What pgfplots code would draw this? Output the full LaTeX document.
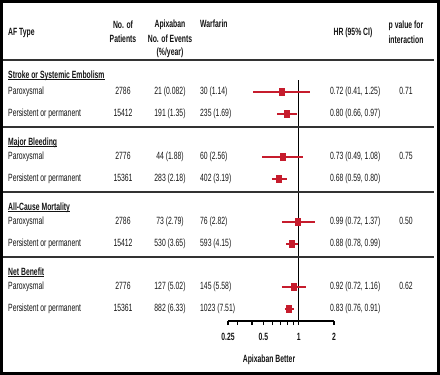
\documentclass[border=0pt]{standalone}
\usepackage{fontspec}
\setmainfont{Liberation Sans}[FakeStretch=0.65]
\usepackage{pgfplots}
\pgfplotsset{compat=1.18}
\definecolor{fred}{RGB}{198,28,45}
\definecolor{txt}{RGB}{20,20,20}
\pgfdeclareplotmark{vrect}{\pgfpathrectangle{\pgfpoint{-3pt}{-4pt}}{\pgfpoint{6pt}{8pt}}\pgfusepathqfill}
\newcommand{\hdr}[1]{\textbf{#1}}
\newcommand{\sect}[2]{\node[anchor=mid west] (s) at (8pt,-#1pt) {\textbf{#2}};
  \draw[line width=0.8pt, txt] ([yshift=-1.2pt]s.base west) -- ([yshift=-1.2pt]s.base east);}
\newcommand{\row}[7]{%
 \node[anchor=mid west] at (8pt,-#1pt) {#2};
 \node[anchor=mid] at (123pt,-#1pt) {#3};
 \node[anchor=mid] at (170pt,-#1pt) {#4};
 \node[anchor=mid west] at (200pt,-#1pt) {#5};
 \node[anchor=mid west] at (330pt,-#1pt) {#6};
 \node[anchor=mid] at (406pt,-#1pt) {#7};
}
\begin{document}
\begin{tikzpicture}[every node/.style={font=\fontsize{10.5}{11.5}\selectfont, inner sep=0pt, text=txt}]
\useasboundingbox (0,0) rectangle (440pt,-375pt);
\begin{axis}[
  at={(228pt,-321pt)}, anchor=south west,
  scale only axis, width=106pt, height=241pt,
  xmode=log, xmin=0.25, xmax=2, ymin=-321, ymax=-80,
  axis x line*=bottom, axis y line=none,
  x axis line style={-, line width=1.2pt, black},
  xtick={0.25,0.5,1,2}, xticklabels={0.25,0.5,1,2},
  minor xtick={0.3,0.4,0.6,0.7,0.8,0.9},
  tick align=outside, major tick length=4pt, minor tick length=4pt,
  every tick/.style={line width=1.2pt, black},
  /pgf/number format/assume math mode=true,
  xticklabel style={font=\bfseries\fontsize{10.5}{11.5}\selectfont, yshift=-8pt},
  clip=false,
]
\addplot[black, line width=1.2pt] coordinates {(1,-80) (1,-321)};
\addplot[fred, line width=2pt] coordinates {(0.41,-92) (1.25,-92)};
\addplot[fred, line width=2pt] coordinates {(0.66,-114) (0.97,-114)};
\addplot[fred, line width=2pt] coordinates {(0.49,-157) (1.08,-157)};
\addplot[fred, line width=2pt] coordinates {(0.59,-179) (0.80,-179)};
\addplot[fred, line width=2pt] coordinates {(0.72,-222) (1.37,-222)};
\addplot[fred, line width=2pt] coordinates {(0.78,-244) (0.99,-244)};
\addplot[fred, line width=2pt] coordinates {(0.72,-287) (1.16,-287)};
\addplot[fred, line width=2pt] coordinates {(0.76,-309) (0.91,-309)};
\addplot[only marks, mark=vrect, color=fred] coordinates {
 (0.72,-92) (0.80,-114) (0.73,-157) (0.68,-179)
 (0.99,-222) (0.88,-244) (0.92,-287) (0.83,-309)};
\end{axis}
% frame and rules
\draw[line width=3pt, black] (1.5pt,-1.5pt) rectangle (438.5pt,-373.5pt);
\foreach \yy in {60,127,192,257} {
  \draw[line width=1.3pt, black!80] (3pt,-\yy pt) -- (434pt,-\yy pt);
}
% header
\node[anchor=mid west] at (8pt,-33pt) {\hdr{AF Type}};
\node at (123pt,-25pt) {\hdr{No. of}};
\node at (123pt,-39pt) {\hdr{Patients}};
\node at (170pt,-25pt) {\hdr{Apixaban}};
\node at (170pt,-39pt) {\hdr{No. of Events}};
\node at (170pt,-53pt) {\hdr{(\%/year)}};
\node[anchor=mid west] at (200pt,-25pt) {\hdr{Warfarin}};
\node at (353pt,-33pt) {\hdr{HR (95\% CI)}};
\node at (406pt,-26pt) {\hdr{p value for}};
\node at (406pt,-40pt) {\hdr{interaction}};
% sections
\sect{76}{Stroke or Systemic Embolism}
\row{92}{Paroxysmal}{2786}{21 (0.082)}{30 (1.14)}{0.72 (0.41, 1.25)}{0.71}
\row{114}{Persistent or permanent}{15412}{191 (1.35)}{235 (1.69)}{0.80 (0.66, 0.97)}{}
\sect{143}{Major Bleeding}
\row{157}{Paroxysmal}{2776}{44 (1.88)}{60 (2.56)}{0.73 (0.49, 1.08)}{0.75}
\row{179}{Persistent or permanent}{15361}{283 (2.18)}{402 (3.19)}{0.68 (0.59, 0.80)}{}
\sect{208}{All-Cause Mortality}
\row{222}{Paroxysmal}{2786}{73 (2.79)}{76 (2.82)}{0.99 (0.72, 1.37)}{0.50}
\row{244}{Persistent or permanent}{15412}{530 (3.65)}{593 (4.15)}{0.88 (0.78, 0.99)}{}
\sect{273}{Net Benefit}
\row{287}{Paroxysmal}{2776}{127 (5.02)}{145 (5.58)}{0.92 (0.72, 1.16)}{0.62}
\row{309}{Persistent or permanent}{15361}{882 (6.33)}{1023 (7.51)}{0.83 (0.76, 0.91)}{}
\node at (269pt,-360pt) {\textbf{Apixaban Better}};
\end{tikzpicture}
\end{document}
